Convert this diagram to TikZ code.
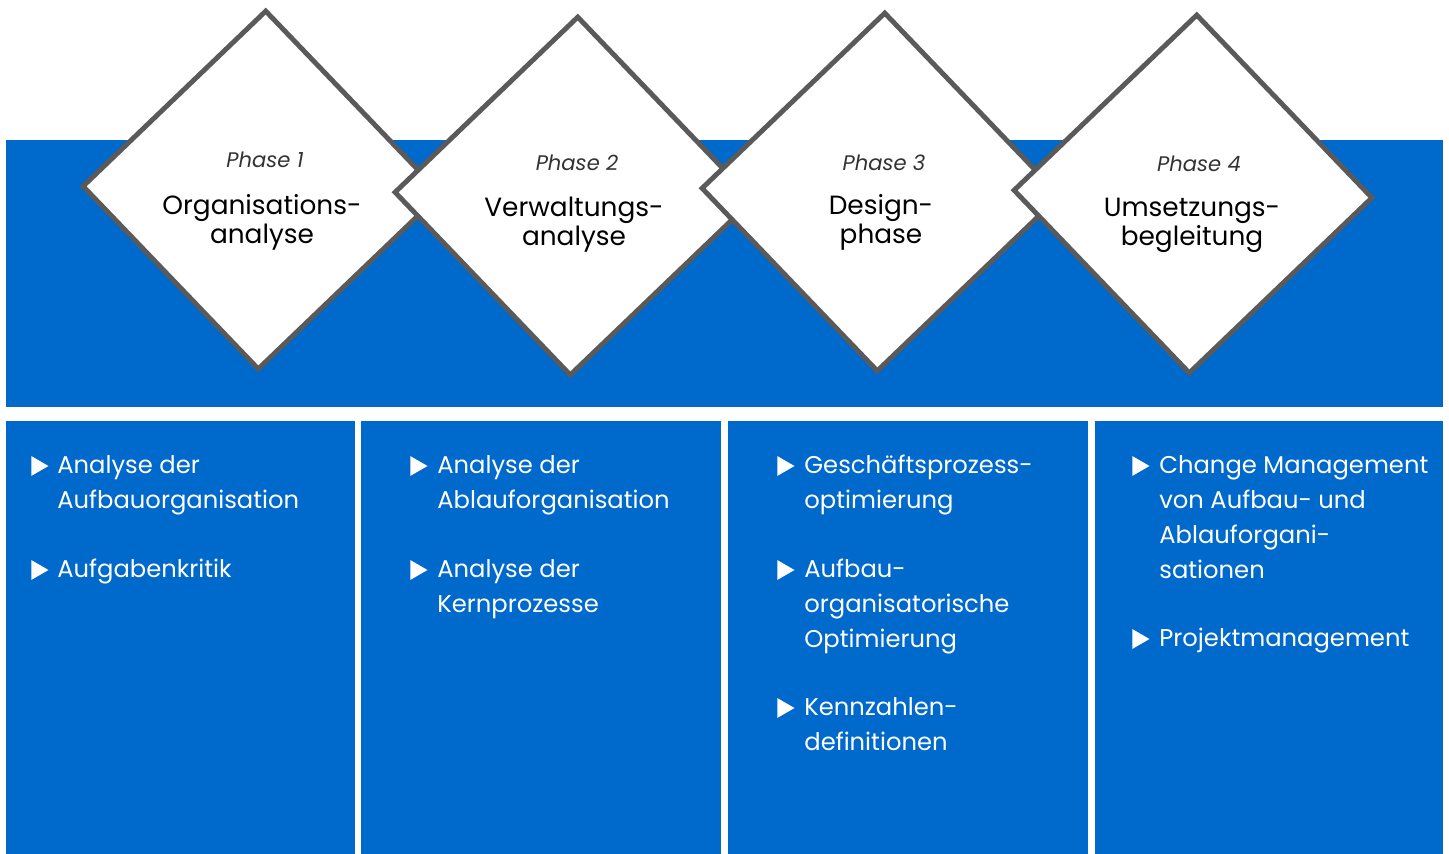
\documentclass[tikz,border=0pt]{standalone}
\usepackage{fontspec}
\setmainfont{Poppins}
\usetikzlibrary{positioning, shapes.geometric}
\definecolor{myblue}{HTML}{0069CC}
\definecolor{mygray}{HTML}{5A5A5A}

\begin{document}
\begin{tikzpicture}[x=0.02cm, y=-0.02cm]
  \tikzstyle{band}=[fill=myblue, inner sep=0pt, anchor=north west]
  \tikzstyle{phase}=[diamond, aspect=1, draw=mygray, fill=white, line width=2.8pt, minimum size=7.2cm, inner sep=0pt, rotate=-1.2]
  \tikzstyle{phasenum}=[font=\fontsize{12}{14}\selectfont\itshape, text=black!80, anchor=base]
  \tikzstyle{phasename}=[font=\fontsize{15}{17}\selectfont, align=center, anchor=base]
  \tikzstyle{item}=[font=\fontsize{13.8}{19.84}\selectfont, text=white, align=left, anchor=base west, inner sep=0pt]
  \tikzstyle{bul}=[regular polygon, regular polygon sides=3, shape border rotate=-90, fill=white, minimum size=0.46cm, inner sep=0pt, outer sep=0pt]

  \useasboundingbox (0,0) rectangle (1449,854);

  % blue band and the four columns
  \node[band, minimum width=28.74cm, minimum height=5.34cm] (top) at (6,140) {};
  \node[band, minimum width=6.98cm, minimum height=8.66cm] (c1) at (6,421) {};
  \node[band, minimum width=7.2cm, minimum height=8.66cm] (c2) at (361,421) {};
  \node[band, minimum width=7.2cm, minimum height=8.66cm] (c3) at (728,421) {};
  \node[band, minimum width=6.96cm, minimum height=8.66cm] (c4) at (1095,421) {};

  % phases (base = last line)
  \node[phase] (d1) at (262,190) {};
  \node[phase] (d2) at (574,196) {};
  \node[phase] (d3) at (881,192) {};
  \node[phase] (d4) at (1193,194) {};

  \node[phasenum] (n1) at (265,168) {Phase 1};
  \node[phasename] (t1) at (262,244) {Organisations-\\analyse};
  \node[phasenum] (n2) at (577,171) {Phase 2};
  \node[phasename] (t2) at (574,246) {Verwaltungs-\\analyse};
  \node[phasenum] (n3) at (884,171) {Phase 3};
  \node[phasename] (t3) at (881,244) {Design-\\phase};
  \node[phasenum] (n4) at (1199,172) {Phase 4};
  \node[phasename] (t4) at (1192,246) {Umsetzungs-\\begleitung};

  % column 1
  \node[bul] (b11) at (37,466) {};
  \node[item] (i11) at (57,508) {Analyse der\\Aufbauorganisation};
  \node[bul] (b12) at (37,570) {};
  \node[item] (i12) at (57,577) {Aufgabenkritik};

  % column 2
  \node[bul] (b21) at (416,466) {};
  \node[item] (i21) at (437,508) {Analyse der\\Ablauforganisation};
  \node[bul] (b22) at (416,570) {};
  \node[item] (i22) at (437,612) {Analyse der\\Kernprozesse};

  % column 3
  \node[bul] (b31) at (783,466) {};
  \node[item] (i31) at (804,508) {Geschäftsprozess-\\optimierung};
  \node[bul] (b32) at (783,570) {};
  \node[item] (i32) at (804,647) {Aufbau-\\organisatorische\\Optimierung};
  \node[bul] (b33) at (783,708) {};
  \node[item] (i33) at (804,750) {Kennzahlen-\\definitionen};

  % column 4
  \node[bul] (b41) at (1138,466) {};
  \node[item] (i41) at (1159,578) {Change Management\\von Aufbau- und\\Ablauforgani-\\sationen};
  \node[bul] (b42) at (1138,639) {};
  \node[item] (i42) at (1159,646) {Projektmanagement};
\end{tikzpicture}
\end{document}
